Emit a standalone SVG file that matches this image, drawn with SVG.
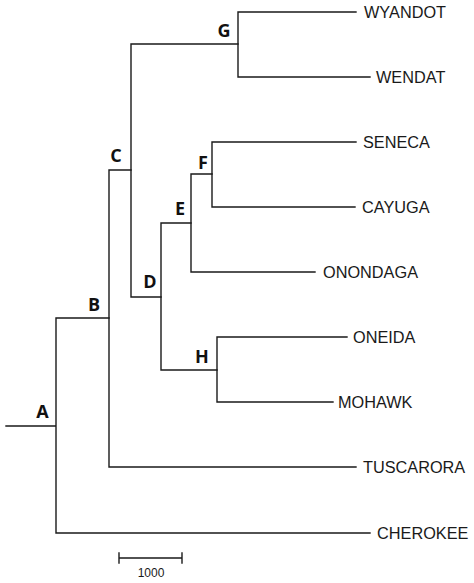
<svg xmlns="http://www.w3.org/2000/svg" width="474" height="583" viewBox="0 0 474 583">
<style>
.br{fill:none;stroke:#1a1a1a;stroke-width:1.4;stroke-linecap:square}
.leaf{font-family:"Liberation Sans",Arial,sans-serif;font-size:16.3px;fill:#1a1a1a}
.nd{font-family:"Open Sans","Liberation Sans",sans-serif;font-size:18px;font-weight:bold;fill:#111;text-anchor:middle}
.sc{font-family:"Liberation Sans",Arial,sans-serif;font-size:12px;fill:#1a1a1a;text-anchor:middle}
</style>
<rect width="474" height="583" fill="#fff"/>
<g id="connectors">
<path class="br" d="M6,426H56M56,318V533M56,318H109M56,533H370"/>
<path class="br" d="M109,170V467M109,170H131M109,467H356"/>
<path class="br" d="M131,44V297M131,44H238M131,297H161"/>
<path class="br" d="M238,12V77M238,12H356M238,77H370"/>
<path class="br" d="M161,223V370M161,223H191M161,370H217"/>
<path class="br" d="M191,174V272M191,174H212M191,272H315"/>
<path class="br" d="M212,142V207M212,142H356M212,207H355"/>
<path class="br" d="M217,337V402M217,337H347M217,402H333"/>
</g>
<g id="node-A"><text class="nd" x="42.5" y="418">A</text></g>
<g id="node-B"><text class="nd" x="94" y="311">B</text></g>
<g id="node-C"><text class="nd" x="116" y="162">C</text></g>
<g id="node-D"><text class="nd" x="150" y="288">D</text></g>
<g id="node-E"><text class="nd" x="180" y="215">E</text></g>
<g id="node-F"><text class="nd" x="203" y="169">F</text></g>
<g id="node-G"><text class="nd" x="224" y="37">G</text></g>
<g id="node-H"><text class="nd" x="202" y="363">H</text></g>
<g id="leaf-wyandot"><text class="leaf" x="364" y="17.5">WYANDOT</text></g>
<g id="leaf-wendat"><text class="leaf" x="376" y="82.5">WENDAT</text></g>
<g id="leaf-seneca"><text class="leaf" x="363" y="147.5">SENECA</text></g>
<g id="leaf-cayuga"><text class="leaf" x="362" y="212.5">CAYUGA</text></g>
<g id="leaf-onondaga"><text class="leaf" x="323" y="277.5">ONONDAGA</text></g>
<g id="leaf-oneida"><text class="leaf" x="353" y="342.5">ONEIDA</text></g>
<g id="leaf-mohawk"><text class="leaf" x="338" y="407.5">MOHAWK</text></g>
<g id="leaf-tuscarora"><text class="leaf" x="363" y="472.5">TUSCARORA</text></g>
<g id="leaf-cherokee"><text class="leaf" x="377" y="538.5">CHEROKEE</text></g>
<g id="scale">
<path class="br" d="M119,558H182M119,553V563M182,553V563"/>
<text class="sc" x="151" y="577">1000</text>
</g>
</svg>
